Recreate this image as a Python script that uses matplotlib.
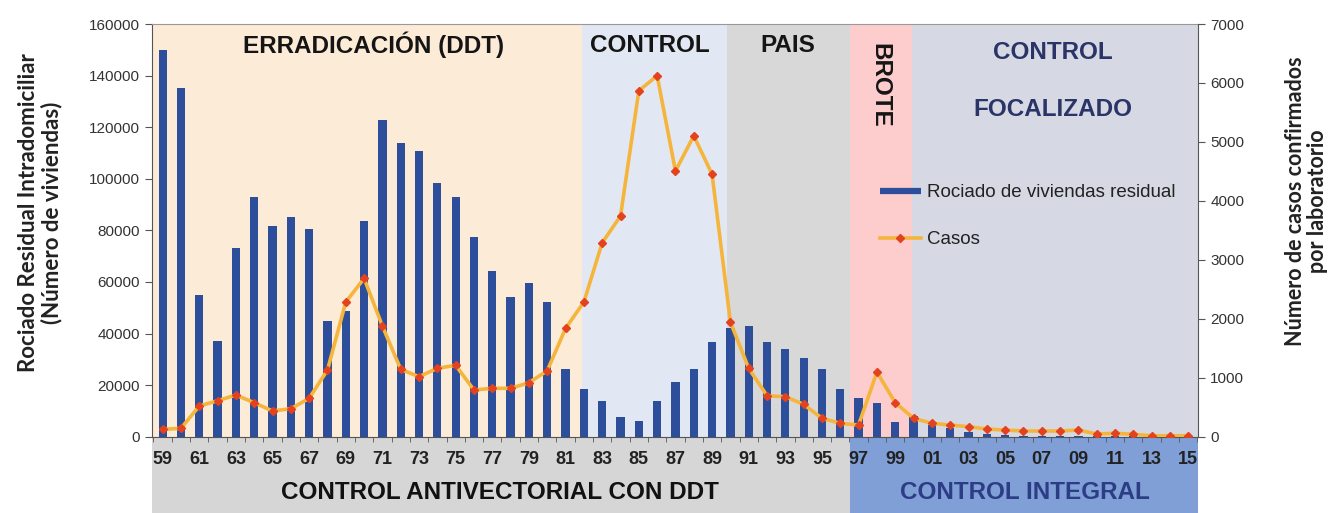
import matplotlib
matplotlib.use("Agg")
import matplotlib.pyplot as plt
from matplotlib.patches import Rectangle
from matplotlib.lines import Line2D
import numpy as np

# ---------------- data ----------------
years = ['59','60','61','62','63','64','65','66','67','68','69',
         '70','71','72','73','74','75','76','77','78','79',
         '80','81','82','83','84','85','86','87','88','89',
         '90','91','92','93','94','95','96','97','98','99',
         '00','01','02','03','04','05','06','07','08','09',
         '10','11','12','13','14','15']

rociado = [150000, 135000, 55000, 37000, 73000, 93000, 81700, 85000, 80400, 45000, 48900,
           83700, 122800, 113700, 110600, 98200, 92800, 77500, 64400, 54000, 59700,
           52200, 26100, 18600, 14000, 7500, 6200, 14000, 21100, 26400, 36600,
           42000, 43000, 36800, 33900, 30400, 26400, 18400, 14900, 13000, 5800,
           8000, 4500, 3200, 2000, 1000, 500, 300, 200, 200, 150,
           100, 100, 100, 100, 100, 100]

casos = [125, 142, 520, 610, 707, 577, 436, 475, 651, 1131, 2284,
         2686, 1877, 1143, 1018, 1160, 1211, 792, 821, 821, 916,
         1119, 1838, 2284, 3290, 3743, 5868, 6123, 4506, 5105, 4450,
         1945, 1160, 695, 678, 549, 312, 227, 198, 1097, 577,
         312, 227, 198, 170, 130, 113, 97, 97, 97, 113,
         46, 58, 41, 17, 17, 17]

# phase regions: (start, end) in category coordinates
fase_bounds = [(-0.6, 22.88), (22.88, 30.8), (30.8, 37.54), (37.54, 40.9), (40.9, 56.55)]
fase_colors = ['#FCEBD7', '#E2E8F3', '#D8D8D8', '#FDCDCD', '#D6D9E3']

# phase titles: text, x (category units), y (axes fraction), rotation, colour
fase_textos = [('ERRADICACIÓN (DDT)', 11.49, 0.949, 0, '#151515'),
               ('CONTROL', 26.6, 0.949, 0, '#151515'),
               ('PAIS', 34.15, 0.949, 0, '#151515'),
               ('BROTE', 39.18, 0.852, -90, '#151515'),
               ('CONTROL', 48.6, 0.932, 0, '#2B3467'),
               ('FOCALIZADO', 48.6, 0.792, 0, '#2B3467')]

banda_labels = ['CONTROL ANTIVECTORIAL CON DDT', 'CONTROL INTEGRAL']
banda_bounds = [(-0.6, 37.54), (37.54, 56.55)]
banda_colors = ['#D6D6D6', '#7F9FD6']
banda_text_colors = ['#111111', '#2C3C85']
banda_text_x = [18.4, 47.1]

# ---------------- figure ----------------
fig = plt.figure(figsize=(13.29, 5.13), dpi=100)
ax = fig.add_axes([0.1141, 0.1487, 0.7876, 0.8045])
ax2 = ax.twinx()

x = np.arange(len(years))
ax.set_xlim(-0.6, 56.55)
ax.set_ylim(0, 160000)
ax2.set_ylim(0, 7000)

# backgrounds
for (a, b), c in zip(fase_bounds, fase_colors):
    ax.axvspan(a, b, color=c, zorder=0, lw=0)

# bottom band below axis
trans = ax.get_xaxis_transform()
for (a, b), c in zip(banda_bounds, banda_colors):
    ax.add_patch(Rectangle((a, -0.19), b - a, 0.187, transform=trans,
                           facecolor=c, edgecolor='none', clip_on=False, zorder=0.3))

# bars
ax.bar(x, rociado, width=0.45, color='#2D4E9B', zorder=2)

# line
ax2.plot(x, casos, color='#F5B53C', lw=2.6, marker='D', markersize=4.4,
         markerfacecolor='#E4421E', markeredgecolor='#E4421E', zorder=3)

# ticks
ax.set_xticks(x[::2])
ax.set_xticklabels(years[::2], fontsize=13, fontweight='bold', color='#222222',
                   family=['Liberation Sans Narrow', 'Liberation Sans', 'DejaVu Sans'])
ax.set_xticks(np.arange(-0.5, 56.6, 1.0), minor=True)
ax.tick_params(axis='x', which='major', length=0, pad=10.5)
ax.tick_params(axis='x', which='minor', length=3.5, color='#555555', direction='out')

ax.set_yticks(np.arange(0, 160001, 20000))
ax.tick_params(axis='y', labelsize=11, labelcolor='#333333', length=5, color='#555555')
ax2.set_yticks(np.arange(0, 7001, 1000))
ax2.tick_params(axis='y', labelsize=11, labelcolor='#333333', length=5, color='#555555')
for lab in ax.get_yticklabels() + ax2.get_yticklabels():
    lab.set_family(['Liberation Sans', 'DejaVu Sans'])

for sp in ['left', 'bottom']:
    ax.spines[sp].set_color('#555555')
ax.spines['top'].set_color('#999999')
ax.spines['right'].set_visible(False)
ax2.spines['right'].set_color('#555555')
ax2.spines['left'].set_visible(False)
ax2.spines['bottom'].set_visible(False)
ax2.spines['top'].set_visible(False)

# axis labels
ax.set_ylabel('Rociado Residual Intradomiciliar\n(Número de viviendas)', fontsize=16,
              fontweight='bold', color='#222222', family=['Lato', 'DejaVu Sans'],
              linespacing=1.1)
ax.yaxis.set_label_coords(-0.085, 0.543)
ax2.set_ylabel('Número de casos confirmados\npor laboratorio', fontsize=15.5,
               fontweight='bold', color='#222222', family=['Lato', 'DejaVu Sans'],
               linespacing=1.05)
ax2.yaxis.set_label_coords(1.083, 0.57)

# phase texts
tfont = dict(fontsize=17.5, fontweight='bold', family=['Liberation Sans', 'DejaVu Sans'])
for txt, xc, yc, rot, col in fase_textos:
    ax.text(xc, yc, txt, transform=trans, ha='center', va='center',
            rotation=rot, color=col, zorder=5, **tfont)

# band texts
for lab, c, xc in zip(banda_labels, banda_text_colors, banda_text_x):
    ax.text(xc, -0.134, lab, transform=trans, ha='center', va='center', color=c,
            zorder=5, clip_on=False, **tfont)

# legend
h1 = Line2D([], [], color='#2D4E9B', lw=4.5, solid_capstyle='butt')
h2 = Line2D([], [], color='#F5B53C', lw=2.6, marker='D', markersize=4.4,
            markerfacecolor='#E4421E', markeredgecolor='#E4421E')
leg = ax2.legend([h1, h2], ['Rociado de viviendas residual', 'Casos'],
                 loc='upper left', bbox_to_anchor=(0.6957, 0.612), frameon=False,
                 borderpad=0, borderaxespad=0,
                 handlelength=2.2, handletextpad=0.3, labelspacing=1.6,
                 prop=dict(family=['Liberation Sans', 'DejaVu Sans'], size=13.5))
for t in leg.get_texts():
    t.set_color('#222222')

fig.savefig('out.png', dpi=100)
